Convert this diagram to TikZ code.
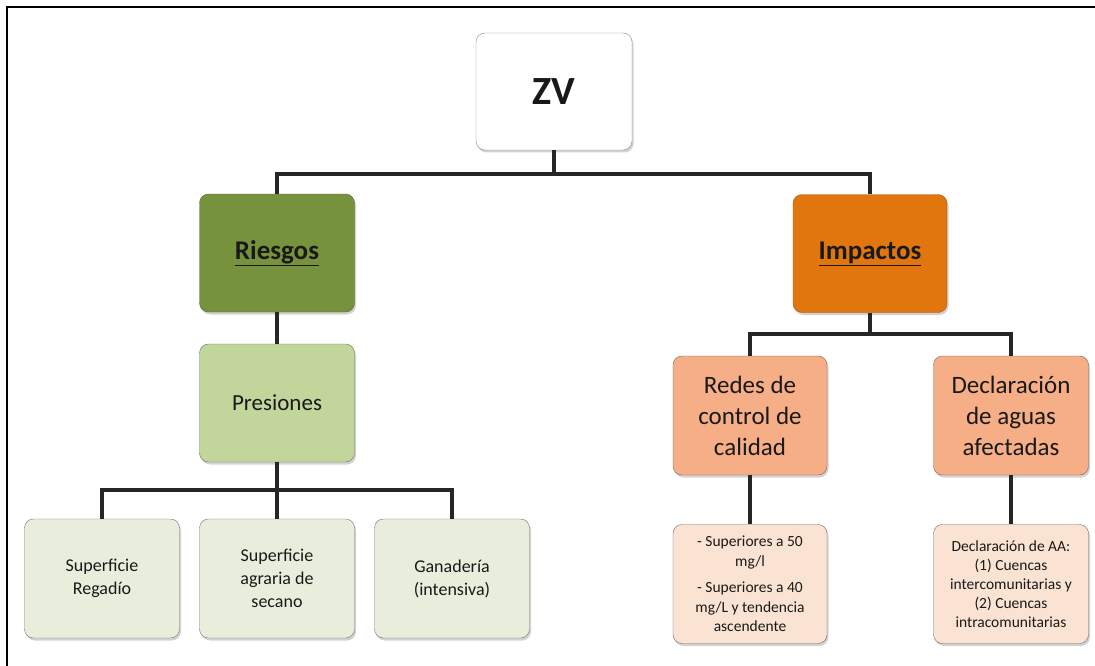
\documentclass[tikz,border=0pt]{standalone}
\usepackage{fontspec}
\setmainfont{Carlito}
\usetikzlibrary{shadows}
\definecolor{riesgo}{HTML}{76923C}
\definecolor{presion}{HTML}{C2D69B}
\definecolor{leafg}{HTML}{E9EEDC}
\definecolor{impacto}{HTML}{E1760E}
\definecolor{redes}{HTML}{F6AE86}
\definecolor{leafo}{HTML}{FBE3D3}
\definecolor{conn}{HTML}{262626}
\tikzset{
  box/.style={rounded corners=9pt, align=center, minimum width=155pt, minimum height=118pt,
    inner sep=2pt, text=black!90,
    drop shadow={opacity=0.35, shadow xshift=1.5pt, shadow yshift=-2.5pt}},
  conline/.style={draw=conn, line width=3.5pt},
}
\begin{document}
\begin{tikzpicture}[x=1pt,y=-1pt]
\useasboundingbox (0,0) rectangle (1095,666);
\fill[white] (0,0) rectangle (1095,666);
% frame (only top and left visible)
\draw[line width=1.8pt] (7,666) -- (7,7) -- (1095,7);

\node[box, fill=white, draw=black!45, minimum width=156pt, minimum height=117pt,
  font=\fontsize{40}{44}\selectfont\bfseries] (zv) at (554,91.5) {ZV};

\node[box, fill=riesgo, draw=riesgo!75!black,
  font=\fontsize{27}{30}\selectfont\bfseries] (ries) at (277,253) {\underline{Riesgos}};
\node[box, fill=impacto, draw=impacto!75!black, minimum width=154pt,
  font=\fontsize{27}{30}\selectfont\bfseries] (imp) at (870,253.5) {\underline{Impactos}};

\node[box, fill=presion, draw=presion!55!black,
  font=\fontsize{23}{27}\selectfont] (pres) at (277,403) {Presiones};

\node[box, fill=leafg, draw=leafg!50!black, minimum height=119pt,
  font=\fontsize{18}{23}\selectfont] (sr) at (102,578.5) {Superficie\\Regadío};
\node[box, fill=leafg, draw=leafg!50!black, minimum height=119pt,
  font=\fontsize{18}{23}\selectfont] (sa) at (277,578.5) {Superficie\\agraria de\\secano};
\node[box, fill=leafg, draw=leafg!50!black, minimum height=119pt,
  font=\fontsize{18}{23}\selectfont] (ga) at (452,578.5) {Ganadería\\(intensiva)};

\node[box, fill=redes, draw=redes!55!black, minimum width=154pt, minimum height=119pt,
  font=\fontsize{25}{31}\selectfont] (red) at (750,415.5) {Redes de\\control de\\calidad};
\node[box, fill=redes, draw=redes!55!black, minimum height=119pt,
  font=\fontsize{25}{31}\selectfont] (dec) at (1011,415.5) {Declaración\\de aguas\\afectadas};

\node[box, fill=leafo, draw=leafo!45!black, minimum width=154pt, minimum height=119pt,
  font=\fontsize{15.5}{19.5}\selectfont] (sup) at (750,584) {- Superiores a 50\\mg/l\\[7pt]- Superiores a 40\\mg/L y tendencia\\ascendente};
\node[box, fill=leafo, draw=leafo!45!black, minimum height=119pt,
  font=\fontsize{15.5}{19}\selectfont] (daa) at (1011,584) {Declaración de AA:\\(1) Cuencas\\intercomunitarias y\\(2) Cuencas\\intracomunitarias};

% connectors
\coordinate (j1) at (554,174);
\coordinate (j2) at (277,490);
\coordinate (j3) at (870,334);
\draw[conline] (zv.south) -- (j1);
\draw[conline] (ries.north) |- (j1) -| (imp.north);
\draw[conline] (ries.south) -- (pres.north);
\draw[conline] (pres.south) -- (j2);
\draw[conline] (sr.north) |- (j2) -| (ga.north);
\draw[conline] (j2) -- (sa.north);
\draw[conline] (imp.south) -- (j3);
\draw[conline] (red.north) |- (j3) -| (dec.north);
\draw[conline] (red.south) -- (sup.north);
\draw[conline] (dec.south) -- (daa.north);
\end{tikzpicture}
\end{document}
